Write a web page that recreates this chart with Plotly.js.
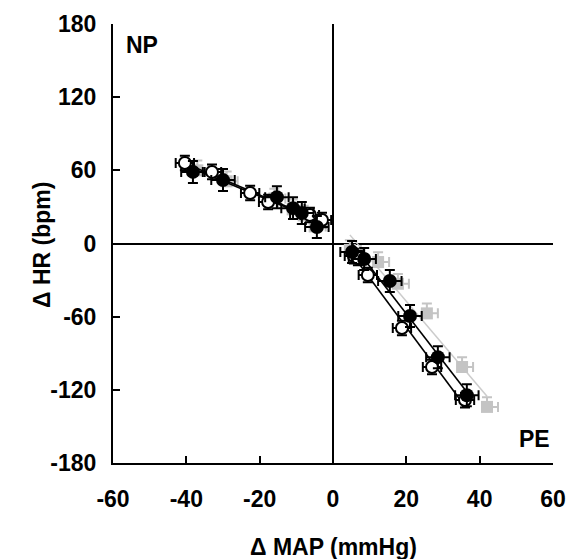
<!DOCTYPE html>
<html>
<head>
<meta charset="utf-8">
<script src="https://cdn.plot.ly/plotly-3.0.1.min.js"></script>
<style>html,body{margin:0;padding:0;background:#fff;}#chart{width:571px;height:559px;}</style>
</head>
<body>
<div id="chart"></div>
<script>
// ---- Data (ΔMAP mmHg, ΔHR bpm) ----
// Filled black circles
const filledNP_x = [-38.2, -30.0, -15.3, -10.9, -8.5, -4.4];
const filledNP_y = [58.7, 52.0, 38.0, 29.0, 25.0, 13.5];
const filledPE_x = [5.2, 8.5, 15.5, 21.0, 28.6, 36.5];
const filledPE_y = [-7.0, -12.7, -30.8, -59.5, -93.2, -124.4];
const filled_ex = [3.2, 3.2, 3.2, 3.2, 3.2, 3.2];
const filled_ey = [9, 9, 9, 9, 9, 9];
// Open circles
const openNP_x = [-40.4, -33.0, -22.6, -17.7, -6.3, -3.0];
const openNP_y = [66.0, 58.7, 41.4, 34.0, 23.4, 19.3];
const openPE_x = [5.7, 6.8, 9.5, 18.8, 27.0, 36.0];
const openPE_y = [-10.3, -11.9, -25.8, -69.3, -101.3, -128.4];
const open_ex = [2.5, 2.5, 2.5, 2.5, 2.5, 2.5];
const open_ey = [6, 6, 6, 6, 6, 6];
// Grey squares
const greyNP_x = [-37.0, -29.0, -16.0, -11.0, -8.0, -5.0];
const greyNP_y = [60.0, 51.0, 37.0, 28.0, 23.0, 14.0];
const greyPE_x = [4.6, 12.3, 17.7, 25.6, 35.2, 42.0];
const greyPE_y = [-5.3, -15.2, -33.0, -57.3, -101.3, -134.0];
const grey_ex = [3, 3, 3, 3, 3, 3];
const grey_ey = [8, 8, 8, 8, 8, 8];
// Axis ticks
const xTicks = [-60, -40, -20, 0, 20, 40, 60];
const yTicks = [-180, -120, -60, 0, 60, 120, 180];

const FONT = 'Liberation Sans, Arial, sans-serif';
const zeros = a => a.map(() => 0);

function fitLine(xs, ys, color, w) {
  const n = xs.length;
  const mx = xs.reduce((a, b) => a + b, 0) / n;
  const my = ys.reduce((a, b) => a + b, 0) / n;
  let sxy = 0, sxx = 0;
  for (let i = 0; i < n; i++) { sxy += (xs[i] - mx) * (ys[i] - my); sxx += (xs[i] - mx) ** 2; }
  const b = sxy / sxx, a = my - b * mx;
  const x0 = Math.min(...xs), x1 = Math.max(...xs);
  return { x: [x0, x1], y: [a + b * x0, a + b * x1], mode: 'lines', type: 'scatter',
           line: { color: color, width: w }, hoverinfo: 'skip' };
}

function pts(xs, ys, ex, ey, marker, ecolor, oneSided) {
  const errx = { type: 'data', array: ex, color: ecolor, thickness: 2, width: 5 };
  const erry = { type: 'data', array: ey, color: ecolor, thickness: 2, width: 5 };
  if (oneSided) { errx.symmetric = false; errx.arrayminus = zeros(ex); erry.symmetric = false; erry.arrayminus = zeros(ey); }
  return { x: xs, y: ys, mode: 'markers', type: 'scatter', marker: marker, error_x: errx, error_y: erry };
}

const greyM = { symbol: 'square', size: 12, color: '#c4c4c4', line: { width: 0 } };
const openM = { symbol: 'circle', size: 12, color: '#ffffff', line: { color: '#000', width: 2 } };
const fillM = { symbol: 'circle', size: 14, color: '#000000', line: { width: 0 } };

const data = [
  fitLine(greyNP_x, greyNP_y, '#cccccc', 1.5),
  fitLine(greyPE_x, greyPE_y, '#cccccc', 1.5),
  pts(greyNP_x, greyNP_y, grey_ex, grey_ey, greyM, '#c4c4c4', true),
  pts(greyPE_x, greyPE_y, grey_ex, grey_ey, greyM, '#c4c4c4', true),
  fitLine(openNP_x, openNP_y, '#000', 1.6),
  fitLine(openPE_x, openPE_y, '#000', 1.6),
  fitLine(filledNP_x, filledNP_y, '#000', 1.6),
  fitLine(filledPE_x, filledPE_y, '#000', 1.6),
  pts(openNP_x, openNP_y, open_ex, open_ey, openM, '#000', false),
  pts(openPE_x, openPE_y, open_ex, open_ey, openM, '#000', false),
  pts(filledNP_x, filledNP_y, filled_ex, filled_ey, fillM, '#000', false),
  pts(filledPE_x, filledPE_y, filled_ex, filled_ey, fillM, '#000', false)
];

const tickFont = { family: FONT, size: 23, color: '#000', weight: 700 };
const layout = {
  width: 571, height: 559,
  margin: { l: 113, r: 18, t: 24, b: 96 },
  paper_bgcolor: '#fff', plot_bgcolor: '#fff',
  showlegend: false,
  xaxis: {
    range: [-60, 60], tickvals: xTicks, ticktext: xTicks.map(String),
    ticks: 'inside', ticklen: 7, tickwidth: 2, tickcolor: '#000',
    showline: true, linewidth: 2, linecolor: '#000', showgrid: false,
    zeroline: true, zerolinewidth: 2, zerolinecolor: '#000',
    tickfont: tickFont, ticklabelstandoff: 14
  },
  yaxis: {
    range: [-180, 180], tickvals: yTicks, ticktext: yTicks.map(String),
    ticks: 'inside', ticklen: 7, tickwidth: 2, tickcolor: '#000',
    showline: true, linewidth: 2, linecolor: '#000', showgrid: false,
    zeroline: true, zerolinewidth: 2, zerolinecolor: '#000',
    tickfont: tickFont, ticklabelstandoff: 10
  },
  annotations: [
    { text: 'Δ MAP (mmHg)', xref: 'paper', yref: 'paper', x: 0.5, y: -0.191, xanchor: 'center', yanchor: 'middle',
      showarrow: false, font: tickFont },
    { text: 'Δ HR (bpm)', xref: 'paper', yref: 'paper', x: -0.161, y: 0.497, xanchor: 'center', yanchor: 'middle',
      textangle: -90, showarrow: false, font: tickFont },
    { text: 'NP', xref: 'paper', yref: 'paper', x: 0.025, y: 0.952, xanchor: 'left', yanchor: 'middle',
      showarrow: false, font: tickFont },
    { text: 'PE', xref: 'paper', yref: 'paper', x: 0.998, y: 0.055, xanchor: 'right', yanchor: 'middle',
      showarrow: false, font: tickFont }
  ]
};

Plotly.newPlot('chart', data, layout, { displayModeBar: false, staticPlot: true });
</script>
</body>
</html>
